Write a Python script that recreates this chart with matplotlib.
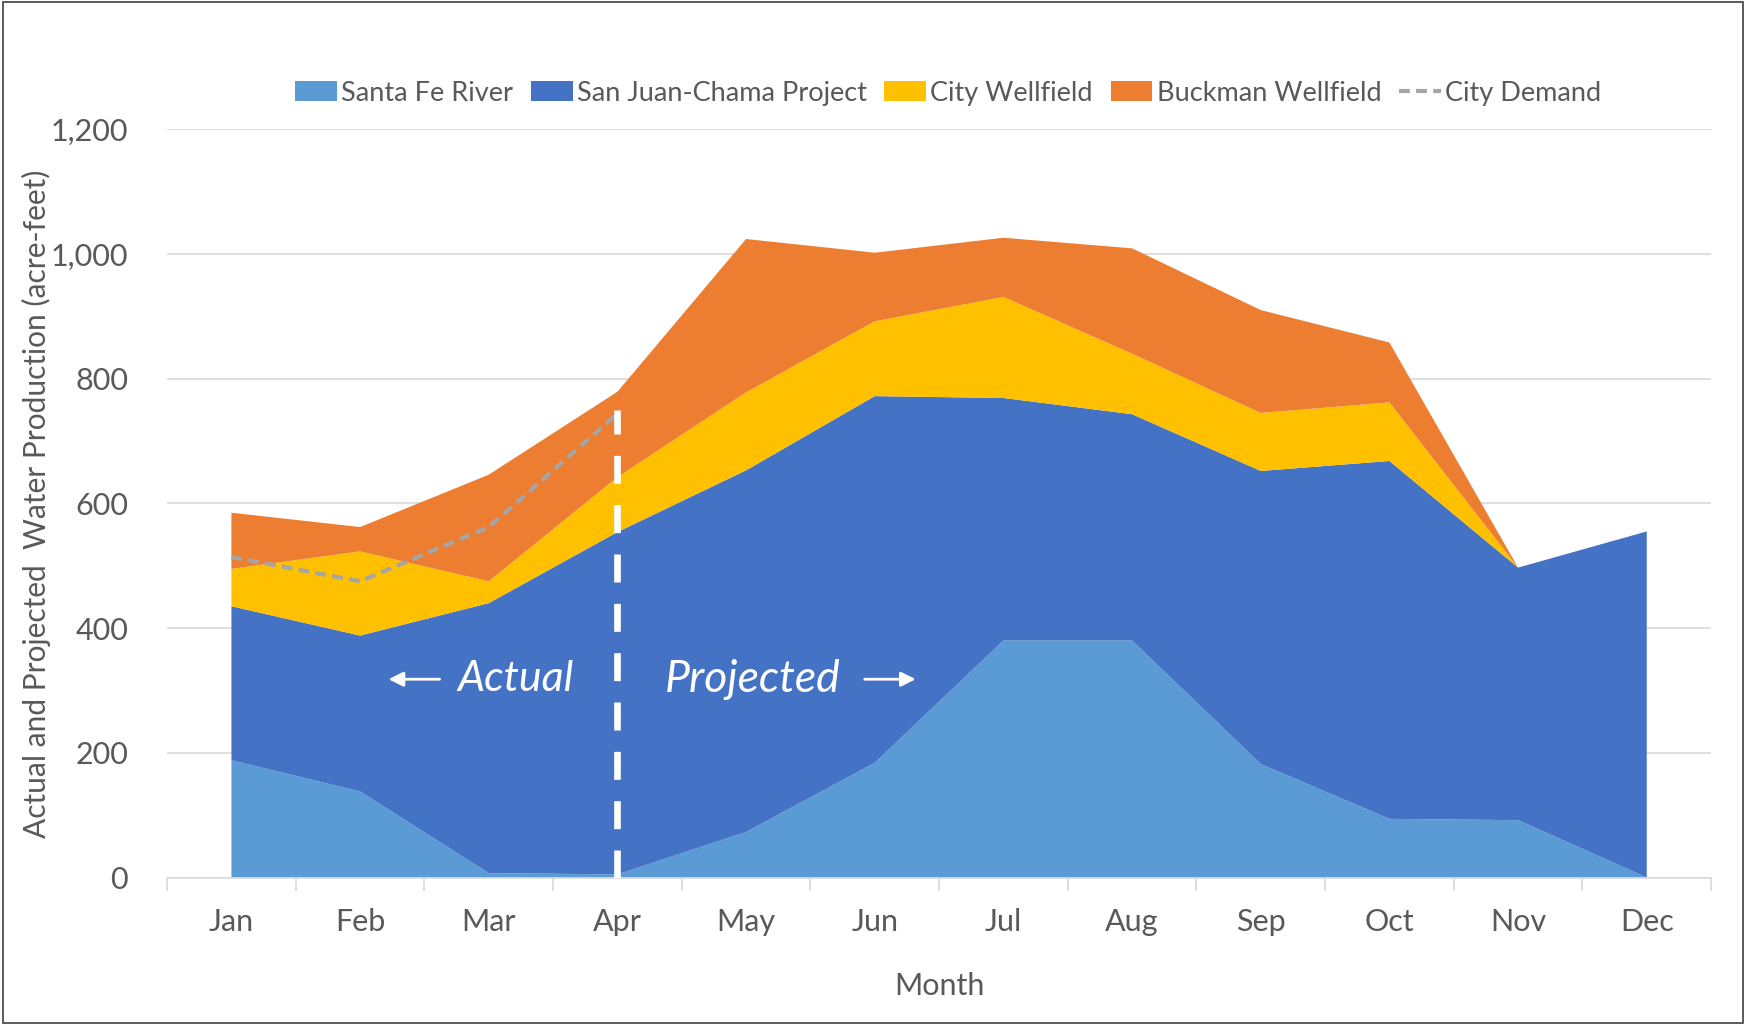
import matplotlib
matplotlib.use("Agg")
import matplotlib.pyplot as plt
from matplotlib.patches import Rectangle
from matplotlib.ticker import FuncFormatter, FixedLocator

months = ["Jan", "Feb", "Mar", "Apr", "May", "Jun", "Jul", "Aug", "Sep", "Oct", "Nov", "Dec"]
santa_fe_river = [188, 138, 7, 5, 73, 184, 380, 380, 182, 94, 92, 0]
san_juan_chama = [247, 250, 433, 549, 580, 588, 389, 363, 470, 574, 405, 555]
city_wellfield = [60, 135, 35, 88, 125, 120, 162, 97, 93, 94, 0, 0]
buckman_wellfield = [90, 39, 171, 137, 246, 110, 95, 169, 165, 96, 0, 0]
demand_months = ["Jan", "Feb", "Mar", "Apr"]
city_demand = [514, 475, 562, 744]
divider_month = "Apr"
divider_top = 750

series_names = ["Santa Fe River", "San Juan-Chama Project", "City Wellfield", "Buckman Wellfield"]
colors = ["#5B9BD5", "#4472C4", "#FFC000", "#ED7D31"]

plt.rcParams['font.family'] = ['Lato', 'DejaVu Sans']
txt = "#595959"

fig = plt.figure(figsize=(17.46, 10.25), dpi=100)
fig.patches.append(Rectangle((0.002, 0.002), 0.996, 0.996, transform=fig.transFigure,
                             fill=False, edgecolor="#404040", linewidth=1.2))
ax = fig.add_axes([0.0957, 0.1439, 0.8843, 0.730])

x = list(range(len(months)))
ax.stackplot(x, santa_fe_river, san_juan_chama, city_wellfield, buckman_wellfield,
             colors=colors, labels=series_names, linewidth=0, zorder=2)

dx = [months.index(m) for m in demand_months]
ax.plot(dx, city_demand, color="#A5A5A5", linestyle=(0, (2.6, 1.5)), linewidth=3.0,
        label="City Demand", zorder=3)

xd = months.index(divider_month)
ax.plot([xd, xd], [0, divider_top], color="white", linewidth=4.8,
        linestyle=(0, (4.2, 3.2)), zorder=4)

ax.set_xlim(-0.5, len(months) - 0.5)
ax.set_ylim(0, 1200)
ax.set_yticks(range(0, 1201, 200))
ax.yaxis.set_major_formatter(FuncFormatter(lambda v, p: f"{int(v):,}"))
ax.set_xticks(x)
ax.set_xticklabels(months)
ax.xaxis.set_minor_locator(FixedLocator([i - 0.5 for i in range(len(months) + 1)]))
ax.tick_params(axis="x", which="major", length=0, pad=22, labelsize=22, labelcolor=txt)
ax.tick_params(axis="x", which="minor", length=9, width=1.2, color="#D9D9D9")
ax.tick_params(axis="y", length=0, pad=28, labelsize=22, labelcolor=txt)
ax.grid(axis="y", color="#D9D9D9", linewidth=1.2, zorder=0)
ax.set_axisbelow(True)
for s in ["top", "right", "left"]:
    ax.spines[s].set_visible(False)
ax.spines["bottom"].set_color("#D9D9D9")
ax.spines["bottom"].set_linewidth(1.2)

ax.set_xlabel("Month", fontsize=22, color=txt, labelpad=26)
ax.set_ylabel("Actual and Projected  Water Production (acre-feet)", fontsize=21.5,
              color=txt, labelpad=0)

# annotations
ax.text(2.66, 318, "Actual", fontsize=31, style="italic", color="white",
        ha="right", va="center", zorder=5)
ax.annotate("", xy=(1.20, 318), xytext=(1.64, 318),
            arrowprops=dict(arrowstyle="-|>", color="white", lw=2, mutation_scale=22), zorder=5)
ax.text(3.37, 318, "Projected", fontsize=32, style="italic", color="white",
        ha="left", va="center", zorder=5)
ax.annotate("", xy=(5.34, 318), xytext=(4.90, 318),
            arrowprops=dict(arrowstyle="-|>", color="white", lw=2, mutation_scale=22), zorder=5)

handles, labels = ax.get_legend_handles_labels()
leg = fig.legend(handles, labels,
                 loc="center", bbox_to_anchor=(0.543, 0.909), ncol=5, frameon=False,
                 fontsize=19.5, handlelength=1.55, handleheight=0.75, handletextpad=0.15,
                 columnspacing=0.65, labelcolor=txt)

fig.savefig("out.png", dpi=100)
